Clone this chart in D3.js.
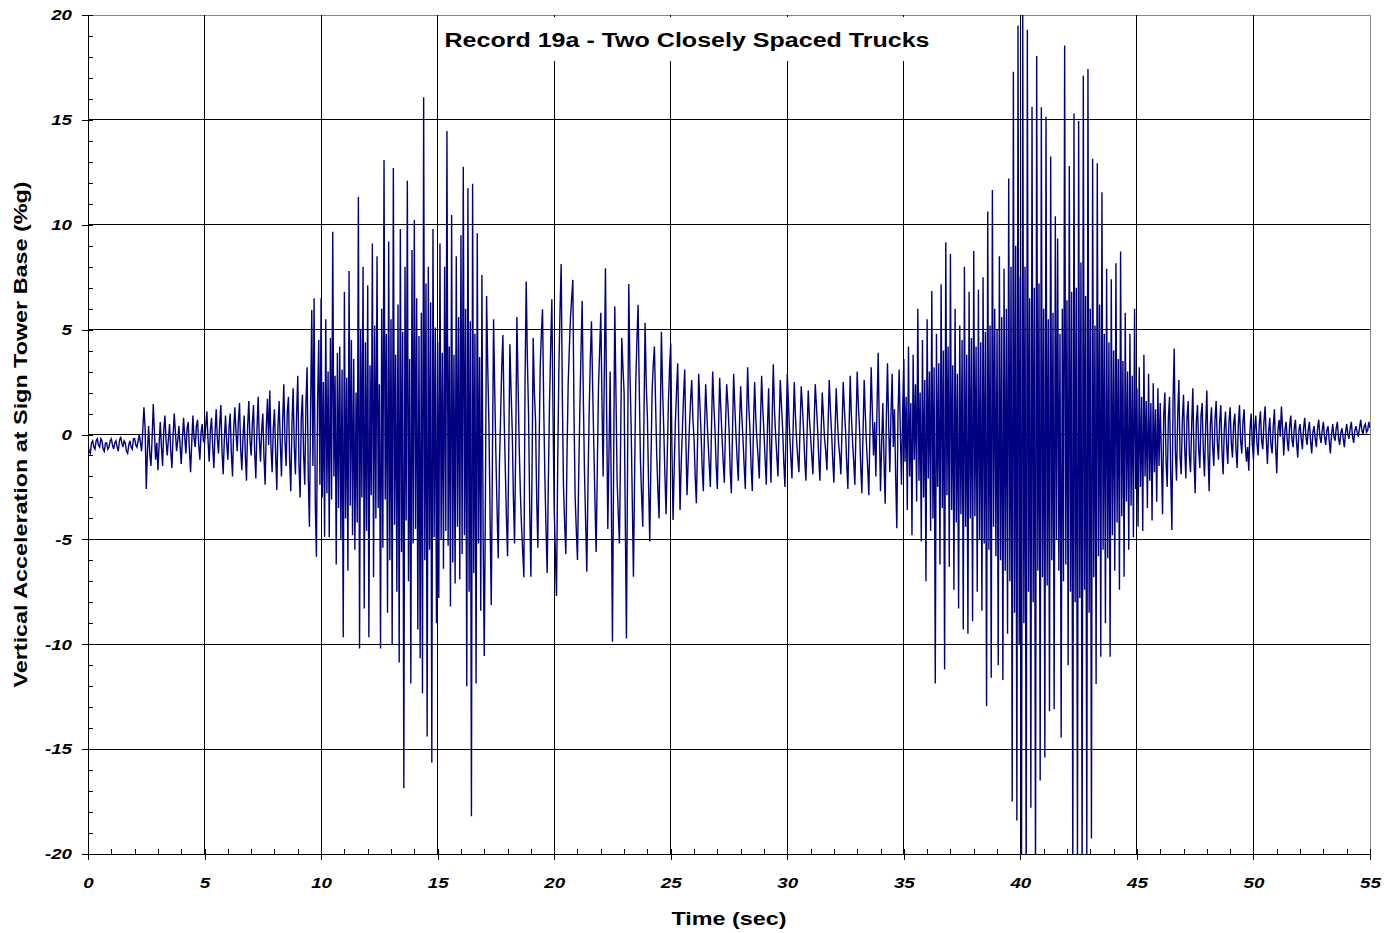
<!DOCTYPE html>
<html>
<head>
    <meta charset="utf-8">
    <style>
        body { margin: 0; background: #fff; }
        svg text { font-family: Arial, "Liberation Sans", Helvetica, sans-serif; fill: #000; }
        .tick text { font-size: 15px; font-weight: bold; font-style: italic; }
        .axis-title { font-size: 19px; font-weight: bold; }
        .title { font-size: 20px; font-weight: bold; }
    </style>
    <script type="text/javascript" src="https://d3js.org/d3.v7.min.js"></script>
</head>
<body>
<svg width="1397" height="933"></svg>
<script>
    let title = "Record 19a - Two Closely Spaced Trucks";
    let xLabel = "Time (sec)";
    let yLabel = "Vertical Acceleration at Sign Tower Base (%g)";
    let xTicks = [0, 5, 10, 15, 20, 25, 30, 35, 40, 45, 50, 55];
    let yTicks = [-20, -15, -10, -5, 0, 5, 10, 15, 20];
    let xMinor = d3.range(0, 56, 1);
    let yMinor = d3.range(-20, 21, 1);

    let sampleStep = 0.05;
    let accel = [
        -0.5, -0.8, -0.9, -0.4, -0.3, -0.6, -0.7, -0.3, -0.2, -0.5, -0.6, -0.2, -0.3, -0.7, -0.8, -0.4, -0.4, -0.7, -0.6, -0.3,
        -0.2, -0.5, -0.7, -0.4, -0.3, -0.6, -0.8, -0.3, -0.1, -0.4, -0.6, -0.3, -0.4, -0.8, -0.9, -0.5, -0.3, -0.6, -0.7, -0.2,
        -0.2, -0.5, -0.6, -0.3, 0.0, -0.4, -0.8, 0.2, 1.3, 0.3, -2.6, -0.8, 0.4, -0.9, -1.5, -0.2, 1.45, 0.1, -1.2, -0.4,
        -1.7, -0.5, 0.6, -0.6, -1.5, 0.2, 0.9, -0.3, -1.0, -0.2, 0.5, -0.8, -1.6, -0.1, 1.0, 0.1, -0.8, -0.3, 0.4, -0.5,
        -1.4, -0.2, 0.8, -0.1, -0.9, 0.3, 0.6, -0.7, -1.8, -0.4, 0.9, -0.2, -0.6, 0.4, 0.7, -0.5, -1.2, 0.1, 0.5, -0.3,
        -0.4, 0.4, 1.1, -0.3, -1.3, 0.2, 0.8, -0.6, -1.6, 0.1, 1.2, -0.2, -0.9, 0.5, 1.4, -0.8, -1.9, -0.2, 0.9, -0.4,
        -1.2, 0.3, 1.0, -0.9, -2.0, 0.2, 1.3, 0.1, -0.8, 0.6, 1.5, -0.7, -1.7, -0.1, 0.9, -1.0, -2.2, 0.4, 1.6, -0.3,
        -1.0, 0.5, 1.4, -0.8, -2.1, 0.3, 1.8, -0.2, -1.3, 0.2, 1.0, -1.1, -2.4, 0.4, 1.7, -0.5, 2.1, -0.6, -1.8, 0.3,
        1.2, -0.9, -2.65, 0.4, 1.6, -0.4, -2.0, 0.6, 2.4, -0.3, -1.5, 1.1, 1.8, -1.2, -2.7, 0.5, 2.2, -0.6, -1.9, 1.0,
        2.8, -1.4, -3.0, 0.8, 1.9, -1.0, -2.4, 1.5, 3.2, -2.0, -4.4, 1.2, 5.94, -1.5, 6.5, -3.2, -5.83, 1.6, 4.5, -2.4,
        6.5, -3.0, 2.5, -4.87, 5.5, -2.8, 3.0, -4.9, 4.6, -3.1, 9.67, -2.0, 2.8, -6.2, 3.9, -3.5, 4.2, -5.0, 3.1, -9.67,
        6.8, -4.0, 2.7, -6.5, 7.8, -3.4, 4.5, -4.8, 3.6, -5.5, 2.0, -4.2, 11.34, -10.2, 5.0, -3.0, 8.0, -8.3, 4.4, -4.6,
        7.1, -9.67, 3.3, -2.9, 9.1, -6.8, 5.2, -4.0, 8.5, -3.5, 2.4, -10.2, 6.0, -5.4, 13.09, -3.1, 4.8, -8.5, 9.2, -6.0,
        5.5, -10.0, 12.7, -4.3, 3.8, -7.5, 6.2, -10.87, 9.8, -5.6, 4.9, -16.87, 8.0, -4.1, 12.1, -7.0, 3.6, -11.87, 8.8, -5.2,
        10.23, -4.5, 6.5, -9.3, 4.7, -10.67, 5.8, -12.34, 16.08, -6.0, 7.2, -14.4, 8.0, -5.5, 6.3, -15.65, 9.8, -4.9, 5.1, -9.0,
        4.4, -7.8, 9.1, -5.0, 3.9, -6.4, 8.0, -4.6, 14.47, -5.3, 4.2, -8.2, 10.47, -6.1, 3.8, -7.1, 8.5, -4.4, 5.6, -6.9,
        9.5, -5.7, 12.77, -4.8, 6.0, -12.0, 11.74, -7.5, 5.4, -18.2, 11.95, -6.6, 4.8, -11.87, 9.6, -5.2, 3.7, -8.4, 7.6, -4.6,
        -10.56, -3.0, 6.6, 3.2, 0.5, -4.0, -8.13, -1.2, 5.5, 2.0, -1.0, -3.6, -5.9, -1.5, 0.8, 3.2, 4.74, 1.0, -1.5, -3.9,
        -5.8, -1.0, 4.3, 2.1, 0.2, -3.0, -5.2, -0.5, 5.6, 2.5, -0.6, -2.8, -4.4, -5.6, -6.81, 2.5, 7.29, 3.6, 1.0, -3.5,
        -6.78, -1.8, 4.6, 2.0, 0.7, -3.1, -5.4, -0.9, 3.2, 4.8, 5.97, 1.4, -2.0, -4.5, -6.6, -2.2, 1.5, 4.2, 6.45, 1.0,
        -3.5, -5.6, -7.7, -1.5, 3.0, 5.9, 8.13, 1.8, -2.5, -4.3, -5.7, -1.0, 2.4, 4.1, 5.6, 6.5, 7.37, 1.0, -3.0, -4.6,
        -5.98, -2.1, 1.2, 3.9, 6.37, 1.8, -1.8, -4.2, -6.54, -2.4, 1.0, 3.6, 5.4, 2.3, -0.5, -3.2, -5.6, -1.7, 2.2, 4.0,
        5.8, 1.6, -2.0, 2.8, 7.92, 1.2, -4.5, -1.0, 3.0, -2.8, -9.88, -1.5, 6.1, 2.0, -2.2, -3.8, -5.2, -0.4, 4.6, 3.2,
        2.0, -4.0, -9.72, -1.1, 7.18, 3.0, 0.5, -3.1, -6.78, -2.0, 2.5, 4.5, 6.18, 2.2, -1.2, -2.9, -4.4, 0.6, 5.33, 2.4,
        0.8, -2.4, -5.1, -1.4, 2.0, 3.3, 4.2, 1.5, -1.0, -2.7, -4.0, 0.5, 4.9, 2.2, 0.3, -1.9, -3.8, -1.1, 1.5, 3.2,
        4.35, -0.5, -4.08, -1.6, 0.6, 2.1, 3.4, -0.4, -3.6, -1.4, 0.2, 1.8, 3.1, -0.3, -2.9, -1.2, 0.3, 1.6, 2.6, 0.8,
        -0.2, -2.0, -3.28, -0.4, 2.9, 1.5, 0.1, -1.6, -2.7, 0.3, 2.4, 1.0, -0.3, -1.4, -2.5, 0.4, 3.0, 1.4, 0.2, -1.5,
        -2.6, 0.2, 2.7, 1.2, -0.1, -1.3, -2.3, 0.4, 2.4, 1.5, 0.3, -1.7, -2.8, 0.1, 2.9, 1.3, 0.0, -1.2, -2.2, 0.5,
        2.3, 0.9, -0.2, -1.5, -2.6, 0.6, 3.2, 1.3, 0.2, -1.6, -2.7, 0.4, 2.5, 0.8, -0.3, -1.1, -2.1, 0.6, 2.8, 1.2,
        0.1, -1.2, -2.4, 0.3, 2.2, -0.4, -2.3, 0.7, 3.35, 1.2, 0.0, -1.0, -2.0, 0.5, 2.6, 1.4, 0.3, -1.3, -2.5, 0.2,
        2.9, 1.5, 0.1, -1.0, -2.1, 0.2, 2.5, 0.9, -0.3, -1.1, -1.8, 0.4, 2.3, 1.3, 0.2, -1.2, -2.2, 0.1, 2.1, 0.8,
        -0.1, -1.0, -1.9, 0.3, 2.4, 1.4, 0.3, -1.1, -2.2, 0.0, 2.0, 0.9, -0.2, -0.8, -1.7, 0.4, 2.6, 1.2, 0.1, -1.2,
        -2.3, 0.1, 2.2, 0.8, -0.4, -1.0, -1.9, 0.3, 2.5, 1.2, 0.2, -1.4, -2.6, 0.2, 2.8, 0.9, -0.3, -1.3, -2.4, 0.4,
        3.0, 1.4, 0.3, -1.5, -2.8, 0.1, 2.6, 0.9, -0.5, -1.6, -2.9, 0.4, 3.2, 1.1, -1.0, 0.6, -2.0, 1.2, 3.9, 0.3,
        -2.7, -0.4, 1.5, -1.2, -3.3, 0.8, 3.4, 0.4, -1.8, 1.0, 2.9, -0.6, 1.2, -2.0, -4.47, 0.9, 3.1, 0.2, -2.4, 1.1,
        3.6, -1.3, 1.8, -3.6, 4.2, -2.0, 1.5, -4.8, 3.8, -1.2, 2.4, -3.2, 6.0, -2.2, 2.0, -5.1, 4.5, -3.0, 2.6, -7.0,
        5.5, -2.1, 3.0, -4.6, 6.84, -4.0, 3.2, -11.87, 4.8, -2.5, 3.4, -6.2, 7.16, -3.5, 4.0, -11.2, 9.17, -2.9, 4.2, -6.3,
        8.6, -3.6, 3.3, -7.4, 6.0, -4.2, 2.9, -8.3, 5.2, -3.8, 4.5, -9.3, 8.0, -4.4, 3.8, -9.5, 6.8, -4.0, 4.6, -8.9,
        8.75, -3.9, 4.2, -7.5, 6.9, -5.0, 4.4, -8.4, 7.5, -5.2, 4.9, -12.95, 10.63, -5.5, 5.2, -11.6, 11.66, -4.4, 6.0, -5.8,
        5.0, -11.0, 8.5, -6.0, 5.6, -11.7, 7.9, -6.5, 6.0, -9.5, 12.2, -7.0, 8.0, -17.5, 17.3, -8.5, 9.0, -18.4, 19.5, -10.0,
        7.5, -21.0, 20.5, -9.0, 8.0, -22.0, 19.3, -7.5, 6.5, -17.8, 15.63, -8.0, 7.0, -21.5, 18.05, -6.5, 7.2, -16.5, 15.6, -6.8,
        6.0, -15.4, 15.15, -7.2, 5.5, -13.2, 13.25, -6.0, 5.8, -13.1, 10.4, -5.0, 9.35, -6.5, 4.8, -14.45, 6.0, -7.0, 18.54, -6.2,
        6.4, -11.0, 12.8, -7.5, 6.8, -21.0, 15.3, -8.0, 7.0, -20.6, 14.95, -7.8, 8.2, -21.5, 17.1, -7.4, 6.6, -20.4, 17.43, -8.5,
        6.0, -19.26, 13.15, -6.8, 5.2, -11.9, 12.93, -5.8, 6.2, -10.6, 11.55, -5.5, 4.8, -9.0, 7.9, -5.9, 4.4, -10.6, 7.4, -4.8,
        4.0, -6.5, 8.16, -4.2, 3.6, -7.4, 8.72, -3.9, 3.5, -6.78, 5.8, -3.2, 3.0, -5.5, 4.8, -3.4, 2.8, -4.9, 6.0, -2.6,
        2.2, -4.4, 3.2, -2.5, 1.8, -4.6, 3.8, -2.0, 1.6, -3.5, 2.9, -2.2, 1.5, -4.1, 2.44, -1.8, 1.2, -3.2, 2.2, -1.5,
        1.5, -1.0, -3.8, 0.9, 2.0, -1.3, -2.5, 0.8, 1.8, -1.9, -4.55, 1.6, 4.1, -0.8, -2.2, 0.9, 2.6, -1.0, -1.9, 0.7,
        1.9, -0.6, -2.1, 0.8, 1.6, -1.0, -1.8, 0.5, 2.2, -1.2, -2.8, 0.6, 1.4, -0.7, -1.6, 0.9, 1.5, -0.8, -2.0, 0.4,
        2.1, -0.9, -2.7, 0.5, 1.3, -0.6, -1.5, 0.7, 1.6, -0.4, -1.2, 0.6, 1.4, -0.8, -1.9, 0.3, 1.1, -0.5, -1.4, 0.6,
        1.3, -0.4, -1.1, 0.5, 1.0, -0.7, -1.6, 0.4, 1.4, -0.3, -0.9, 0.6, 1.2, -0.5, -1.3, -0.6, -1.73, 0.2, 1.0, -0.4,
        -1.2, 0.3, 0.9, -0.4, -1.0, 0.5, 1.1, -0.3, -0.7, 0.6, 1.35, -0.2, -1.4, 0.1, 0.8, -0.5, -0.9, 0.4, 1.2, -0.6,
        -1.85, 0.2, 0.7, -0.1, 1.33, 0.3, -1.0, 0.2, 0.6, -0.3, -0.8, 0.4, 0.9, -0.2, -0.6, 0.3, 0.7, -0.4, -1.1, 0.2,
        0.5, -0.2, -0.7, 0.3, 0.8, -0.1, -0.5, 0.2, 0.6, -0.3, -0.9, 0.1, 0.4, -0.2, -0.6, 0.3, 0.7, -0.1, -0.4, 0.2,
        0.6, -0.1, -0.5, 0.2, 0.4, -0.3, -0.9, 0.0, 0.5, -0.1, -0.3, 0.3, 0.6, -0.2, -0.5, 0.1, 0.3, -0.2, -0.6, 0.1,
        0.5, 0.0, -0.2, 0.3, 0.6, -0.1, -0.4, 0.2, 0.4, 0.1, -0.1, 0.3, 0.7, 0.2, 0.0, 0.4, 0.5, 0.1, 0.2, 0.6,
        0.3
    ];

    let svg = d3.select("svg"),
        margin = {top: 15, right: 27, bottom: 79, left: 88},
        width = +svg.attr("width") - margin.left - margin.right,
        height = +svg.attr("height") - margin.top - margin.bottom;

    let x = d3.scaleLinear().domain([0, 55]).range([0, width]);
    let y = d3.scaleLinear().domain([-20, 20]).range([height, 0]);

    // the original fonts are drawn about a quarter wider than Arial
    let stretch = 1.25;

    let g = svg.append("g")
        .attr("transform", "translate(" + margin.left + "," + margin.top + ")");

    svg.append("defs").append("clipPath").attr("id", "plot-clip")
        .append("rect").attr("width", width).attr("height", height);

    // grid
    g.selectAll(".hgrid")
        .data(yTicks.filter(function(d) { return d > -20; }))
        .enter().append("line")
        .attr("x1", 0).attr("x2", width)
        .attr("y1", function(d) { return y(d); })
        .attr("y2", function(d) { return y(d); })
        .attr("stroke", function(d) { return d === 20 ? "#888" : "#000"; })
        .attr("shape-rendering", "crispEdges");

    g.selectAll(".vgrid")
        .data(xTicks.filter(function(d) { return d > 0; }))
        .enter().append("line")
        .attr("y1", 0).attr("y2", height)
        .attr("x1", function(d) { return x(d); })
        .attr("x2", function(d) { return x(d); })
        .attr("stroke", function(d) { return d === 55 ? "#888" : "#000"; })
        .attr("shape-rendering", "crispEdges");

    // the record
    let line = d3.line()
        .x(function(d, i) { return x(i * sampleStep); })
        .y(function(d) { return y(d); });

    g.append("path")
        .datum(accel)
        .attr("clip-path", "url(#plot-clip)")
        .attr("fill", "none")
        .attr("stroke", "#000080")
        .attr("stroke-width", 1.4)
        .attr("d", line);

    // axes
    let fmt = function(d) { return String(d); };

    g.append("g")
        .attr("class", "y-axis")
        .call(d3.axisLeft(y).tickValues(yTicks).tickSize(6).tickSizeOuter(0).tickPadding(10).tickFormat(fmt));
    g.append("g")
        .call(d3.axisRight(y).tickValues(yMinor).tickSize(5).tickSizeOuter(0).tickFormat(""))
        .select(".domain").remove();

    g.append("g")
        .attr("class", "x-axis")
        .attr("transform", "translate(0," + height + ")")
        .call(d3.axisBottom(x).tickValues(xTicks).tickSize(6).tickSizeOuter(0).tickPadding(17).tickFormat(fmt));
    g.append("g")
        .attr("transform", "translate(0," + height + ")")
        .call(d3.axisTop(x).tickValues(xMinor).tickSize(5).tickSizeOuter(0).tickFormat(""))
        .select(".domain").remove();

    svg.selectAll(".domain, .tick line")
        .attr("stroke", "#000")
        .attr("shape-rendering", "crispEdges");
    svg.selectAll(".tick text").attr("font-family", null).attr("font-size", null);

    g.selectAll(".y-axis .tick text")
        .attr("x", -16 / stretch)
        .attr("transform", "scale(" + stretch + ",1)");
    g.selectAll(".x-axis .tick text")
        .attr("transform", "scale(" + stretch + ",1)");

    // title box
    svg.append("rect")
        .attr("x", 440).attr("y", 17)
        .attr("width", 495).attr("height", 44)
        .attr("fill", "#fff");
    svg.append("text")
        .attr("class", "title")
        .attr("x", 687).attr("y", 47)
        .attr("text-anchor", "middle")
        .attr("textLength", 485)
        .attr("lengthAdjust", "spacingAndGlyphs")
        .text(title);

    svg.append("text")
        .attr("class", "axis-title")
        .attr("x", margin.left + width / 2).attr("y", 925)
        .attr("text-anchor", "middle")
        .attr("textLength", 115)
        .attr("lengthAdjust", "spacingAndGlyphs")
        .text(xLabel);

    svg.append("text")
        .attr("class", "axis-title")
        .attr("transform", "translate(27," + (margin.top + height / 2) + ") rotate(-90)")
        .attr("text-anchor", "middle")
        .attr("textLength", 506)
        .attr("lengthAdjust", "spacingAndGlyphs")
        .text(yLabel);
</script>
</body>
</html>
